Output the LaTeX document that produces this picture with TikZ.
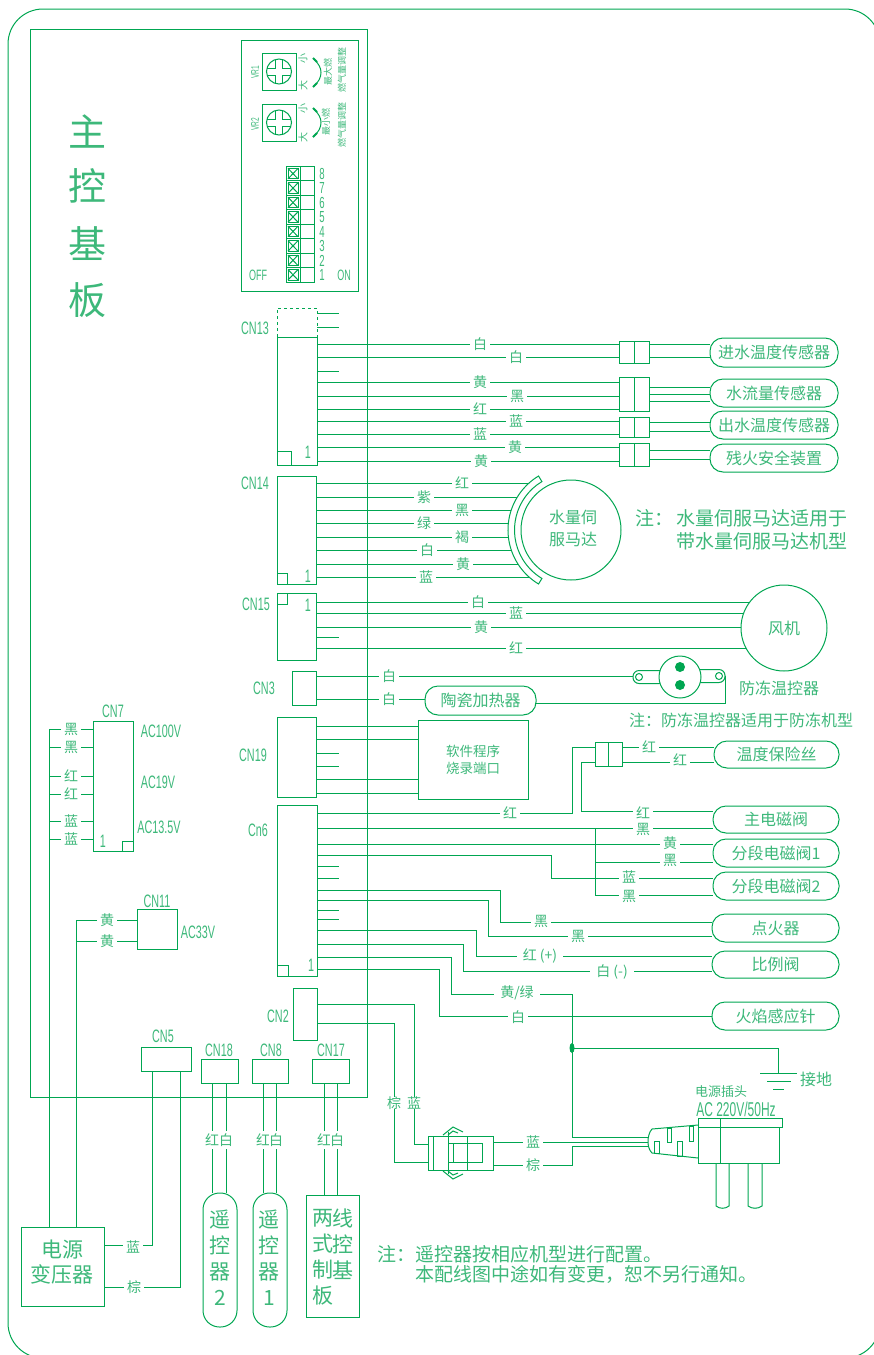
\documentclass[tikz,border=0pt]{standalone}
\usepackage{fontspec}
\setmainfont{Noto Sans CJK SC}
\newfontfamily\lat[FakeStretch=0.6]{Liberation Sans}
\usetikzlibrary{fit,calc,backgrounds,shapes.geometric}
\definecolor{wirecol}{HTML}{00A651}
\definecolor{textcol}{HTML}{3DB87A}
\newcommand{\fs}[1]{\fontsize{#1}{#1}\selectfont}
\tikzset{
  wire/.style={draw=wirecol,line width=1pt},
  pbox/.style={draw=wirecol,line width=1pt,inner sep=0pt,outer sep=0pt,text=textcol},
  capsule/.style={pbox,rounded corners=13pt},
  lab/.style={fill=white,text=textcol,inner xsep=3pt,inner ysep=0pt,font=\fs{14}},
  note/.style={text=textcol,inner sep=0pt},
  cnlab/.style={text=textcol,inner sep=0pt,font=\lat\fs{18}},
  small/.style={text=textcol,inner sep=0pt,rotate=90,font=\fs{9}}
}
\newcommand{\lb}[3]{\node[lab] (lb#1x#2) at (#1,#2) {#3};}
\newcommand{\hw}[3]{\draw[wire] (#1.east |- 0,#3) -- (#2.west |- 0,#3);}
\newcommand{\stub}[2]{\draw[wire] (#1.east |- 0,#2) -- (stubx |- 0,#2);}
\newcommand{\plugbox}[5]{\node[pbox,fit={(#2,#4) (#3,#5)}] (#1) {};
  \draw[wire] (#1.north) -- (#1.south);}
\newcommand{\captext}[2]{\node[note,font=\fs{16}] (#1t) at (#1.center) {#2};}
\begin{document}
\begin{tikzpicture}[x=1pt,y=-1pt]
  \useasboundingbox (0,0) rectangle (874,1355);
  \draw[wire,rounded corners=35pt] (8,9) rectangle (880,1358);
  \coordinate (stubx) at (339,0);
  \node[pbox,fit={(30,29) (367,1097)}] (board) {};
  \node[note,font=\fs{38}] (t1) at (87,131) {主};
  \node[note,font=\fs{38}] (t2) at (87,186) {控};
  \node[note,font=\fs{38}] (t3) at (87,244) {基};
  \node[note,font=\fs{38}] (t4) at (87,300) {板};

  \node[pbox,fit={(241,40) (358,291)}] (vrbox) {};
  \node[pbox,fit={(262,53) (296,90)}] (vra) {};
  \node[pbox,fit={(262,104) (296,141)}] (vrb) {};
  \foreach \n in {vra,vrb}{
    \node[pbox,circle,minimum size=25pt] (\n c) at (\n.center) {};
    \foreach \sx in {-1,1}\foreach \sy in {-1,1}
      \draw[wire] ($(\n.center)+(3.5*\sx,12*\sy)$) -- ($(\n.center)+(3.5*\sx,3.5*\sy)$) -- ($(\n.center)+(12*\sx,3.5*\sy)$);
  }
  \node[small,font=\lat\fs{11}] (vralab) at (255,72) {VR1};
  \node[small,font=\lat\fs{11}] (vrblab) at (255,124) {VR2};
  \node[small,font=\fs{10}] (xa) at (303,58) {小};
  \node[small,font=\fs{10}] (da) at (303,85) {大};
  \node[small,font=\fs{10}] (xb) at (303,108) {小};
  \node[small,font=\fs{10}] (db) at (303,137) {大};
  \node[small] (maxa) at (328,72) {最大燃};
  \node[small] (gasa) at (342,70) {燃气量调整};
  \node[small] (mina) at (326,122) {最小燃};
  \node[small] (gasb) at (342,125) {燃气量调整};
  \foreach \y in {58,108}{
    \draw[wire] (313,\y) .. controls (319,\y+6) and (321,\y+10) .. (321,\y+14.5) .. controls (321,\y+19) and (319,\y+24) .. (313,\y+29);
    \draw[wire,line width=2pt] (313,\y) -- (317,\y+4);
    \draw[wire,line width=2pt] (313,\y+29) -- (317,\y+25);
  }
  \foreach \i in {1,...,8}{
    \pgfmathsetmacro{\yt}{282-14.45*\i}
    \pgfmathsetmacro{\yb}{282-14.45*(\i-1)}
    \node[pbox,fit={(286,\yt) (314,\yb)}] (dip\i) {};
    \draw[wire] (300,\yt) -- (300,\yb);
    \draw[wire] (288,\yt+2) rectangle (298,\yb-2);
    \draw[wire] (288,\yt+2) -- (298,\yb-2);
    \draw[wire] (298,\yt+2) -- (288,\yb-2);
    \node[cnlab,font=\lat\fs{16}] (dipn\i) at (322,{275-14.45*(\i-1)}) {\i};
  }
  \node[cnlab,font=\lat\fs{15}] (off) at (258,275) {OFF};
  \node[cnlab,font=\lat\fs{15}] (on) at (344,275) {ON};

  % connectors on the board
  \node[pbox,fit={(277,337) (317,465)}] (cna) {};
  \draw[wire,dashed] (cna.north west) -- (277,308) -- (317,308) -- (cna.north east);
  \draw[wire] (277,451) rectangle (291,465);
  \node[cnlab] (cnat) at (255,328) {CN13};
  \node[cnlab] (cnao) at (308,452) {1};
  \node[pbox,fit={(277,476) (316,584)}] (cnb) {};
  \draw[wire] (277,573) rectangle (287,584);
  \node[cnlab] (cnbt) at (255,483) {CN14};
  \node[cnlab] (cnbo) at (308,576) {1};
  \node[pbox,fit={(277,593) (316,660)}] (cnc) {};
  \draw[wire] (277,593) rectangle (287,604);
  \node[cnlab] (cnct) at (256,604) {CN15};
  \node[cnlab] (cnco) at (308,605) {1};
  \node[pbox,fit={(292,671) (316,705)}] (cnd) {};
  \node[cnlab] (cndt) at (264,688) {CN3};
  \node[pbox,fit={(277,717) (316,797)}] (cne) {};
  \node[cnlab] (cnet) at (253,755) {CN19};
  \node[pbox,fit={(277,805) (317,976)}] (cnf) {};
  \draw[wire] (277,965) rectangle (288,976);
  \node[cnlab] (cnft) at (258,830) {Cn6};
  \node[cnlab] (cnfo) at (311,965) {1};
  \node[pbox,fit={(293,988) (317,1040)}] (cng) {};
  \node[cnlab] (cngt) at (278,1016) {CN2};

  % sensors
  \plugbox{pga}{619}{649}{341}{363}
  \plugbox{pgb}{619}{649}{377}{411}
  \plugbox{pgc}{619}{649}{417}{437}
  \plugbox{pgd}{619}{649}{443}{466}
  \node[capsule,fit={(710,338) (838,367)}] (capa) {};
  \captext{capa}{进水温度传感器}
  \node[capsule,fit={(710,379) (838,407)}] (capb) {};
  \captext{capb}{水流量传感器}
  \node[capsule,fit={(710,411) (838,439)}] (capc) {};
  \captext{capc}{出水温度传感器}
  \node[capsule,fit={(710,444) (838,472)}] (capd) {};
  \captext{capd}{残火安全装置}
  \stub{cna}{313}
  \stub{cna}{327}
  \stub{cna}{371}
  \foreach \y/\p in {344/pga,357/pga,382/pgb,396/pgb,409/pgb,421/pgc,434/pgc,447/pgd,461/pgd}{
    \draw[wire] (cna.east |- 0,\y) -- (\p.west |- 0,\y);
  }
  \foreach \y/\p/\c in {344/pga/capa,357/pga/capa,387/pgb/capb,394/pgb/capb,401/pgb/capb,422/pgc/capc,431/pgc/capc,450/pgd/capd,459/pgd/capd}{
    \draw[wire] (\p.east |- 0,\y) -- (\c.west |- 0,\y);
  }
  \lb{480}{344}{白}
  \lb{516}{357}{白}
  \lb{480}{382}{黄}
  \lb{517}{396}{黑}
  \lb{480}{409}{红}
  \lb{516}{421}{蓝}
  \lb{480}{434}{蓝}
  \lb{515}{447}{黄}
  \lb{481}{461}{黄}

  % water servo motor
  \node[pbox,circle,fill=white,minimum size=100pt] (motor) at (571,530) {};
  \node[note,font=\fs{16},align=center] (motort) at (573,528) {水量伺\\[6pt]服马达};
  \node[pbox,circle,fill=white,minimum size=86pt,font=\fs{16}] (fan) at (784,628) {风机};
  \begin{pgfonlayer}{background}
    \foreach \y in {483,497,510,523,537,550,564,577}{
      \draw[wire] (cnb.east |- 0,\y) -- (motor.center |- 0,\y);
    }
    \fill[white] (motor.center) circle[radius=62];
    \foreach \y in {602,613,627,648}{
      \draw[wire] (cnc.east |- 0,\y) -- (fan.center |- 0,\y);
    }
  \end{pgfonlayer}
  \draw[wire,fill=white] ($(motor.center)+(121:63)$) arc[start angle=121,end angle=239,radius=63]
    -- ($(motor.center)+(239:56.5)$) arc[start angle=239,end angle=121,radius=56.5] -- cycle;
  \lb{462}{483}{红}
  \lb{424}{497}{紫}
  \lb{462}{510}{黑}
  \lb{424}{523}{绿}
  \lb{462}{537}{褐}
  \lb{427}{550}{白}
  \lb{463}{564}{黄}
  \lb{426}{577}{蓝}
  \node[note,font=\fs{19}] (notea) at (635,518) [anchor=west] {注：};
  \node[note,font=\fs{19}] (noteb) at (848,518) [anchor=east] {水量伺服马达适用于};
  \node[note,font=\fs{19}] (notec) at (848,541) [anchor=east] {带水量伺服马达机型};

  % fan
  \stub{cnc}{637}
  \lb{478}{602}{白}
  \lb{516}{613}{蓝}
  \lb{481}{627}{黄}
  \lb{516}{648}{红}

  % frost thermostat
  \node[pbox,fill=white,rounded corners=6pt,fit={(633,670.5) (665,683.5)}] (lugl) {};
  \node[pbox,fill=white,rounded corners=6pt,fit={(695,669.5) (725,682.5)}] (lugr) {};
  \node[pbox,circle,minimum size=7pt] (holel) at (639,677) {};
  \node[pbox,circle,minimum size=7pt] (holer) at (719,676) {};
  \node[pbox,circle,fill=white,minimum size=42pt] (thermo) at (680,677) {};
  \node[circle,fill=wirecol,inner sep=0pt,minimum size=10pt] (bla) at (680,667) {};
  \node[circle,fill=wirecol,inner sep=0pt,minimum size=10pt] (blb) at (680,685) {};
  \node[capsule,fit={(425,686) (536,715)}] (heater) {};
  \captext{heater}{陶瓷加热器}
  \hw{cnd}{lugl}{676}
  \hw{cnd}{heater}{699}
  \draw[wire] (heater.east |- 0,703) -- (lugr.east |- 0,703) -- (lugr.east |- 0,676);
  \lb{389}{676}{白}
  \lb{389}{699}{白}
  \node[note,font=\fs{16}] (thermot) at (779,688) {防冻温控器};
  \node[note,font=\fs{16}] (noted) at (741,720) {注：防冻温控器适用于防冻机型};

  % burner port
  \node[pbox,fit={(418,720) (528,799)}] (burn) {};
  \node[note,font=\fs{13.5},align=center] (burnt) at (473,760) {软件程序\\[3pt]烧录端口};
  \foreach \y in {726,739,779,793}{
    \hw{cne}{burn}{\y}
  }
  \stub{cne}{753}
  \stub{cne}{766}

  % valves
  \plugbox{fuse}{595}{622}{742}{766}
  \node[capsule,fit={(714,741) (839,768)}] (capt) {};
  \captext{capt}{温度保险丝}
  \node[capsule,fit={(713,806) (839,833)}] (capm) {};
  \captext{capm}{主电磁阀}
  \node[capsule,fit={(713,839) (839,867)}] (cape) {};
  \captext{cape}{分段电磁阀1}
  \node[capsule,fit={(713,872) (839,900)}] (caph) {};
  \captext{caph}{分段电磁阀2}
  \node[capsule,fit={(712,914) (839,942)}] (capi) {};
  \captext{capi}{点火器}
  \node[capsule,fit={(712,951) (839,978)}] (capp) {};
  \captext{capp}{比例阀}
  \node[capsule,fit={(712,1002) (839,1030)}] (capf) {};
  \captext{capf}{火焰感应针}
  \draw[wire] (cnf.east |- 0,813) -- (572,813) -- (572,747) -- (fuse.west |- 0,747);
  \draw[wire] (fuse.west |- 0,762) -- (581,762) -- (581,811) -- (capm.west |- 0,811);
  \hw{fuse}{capt}{747}
  \hw{fuse}{capt}{762}
  \hw{cnf}{capm}{828}
  \draw[wire] (595,828) -- (595,895) -- (caph.west |- 0,895);
  \draw[wire] (595,862) -- (cape.west |- 0,862);
  \hw{cnf}{cape}{844}
  \draw[wire] (cnf.east |- 0,855) -- (551,855) -- (551,878) -- (caph.west |- 0,878);
  \stub{cnf}{866}
  \stub{cnf}{878}
  \stub{cnf}{910}
  \stub{cnf}{919}
  \draw[wire] (cnf.east |- 0,890) -- (500,890) -- (500,922) -- (capi.west |- 0,922);
  \draw[wire] (cnf.east |- 0,900) -- (488,900) -- (488,936) -- (capi.west |- 0,936);
  \draw[wire] (cnf.east |- 0,930) -- (476,930) -- (476,956) -- (capp.west |- 0,956);
  \draw[wire] (cnf.east |- 0,944) -- (463,944) -- (463,971) -- (capp.west |- 0,971);
  \draw[wire] (cnf.east |- 0,969) -- (439,969) -- (439,1016) -- (capf.west |- 0,1016);
  \coordinate (cord) at (648,1142);
  \draw[wire] (cnf.east |- 0,957) -- (451,957) -- (451,994) -- (572,994) -- (572,1137) -- (cord |- 0,1137);
  \lb{510}{813}{红}
  \lb{649}{747}{红}
  \lb{680}{760}{红}
  \lb{643}{813}{红}
  \lb{643}{829}{黑}
  \lb{670}{843}{黄}
  \lb{670}{860}{黑}
  \lb{629}{877}{蓝}
  \lb{629}{896}{黑}
  \lb{541}{921}{黑}
  \lb{578}{936}{黑}
  \node[lab,inner xsep=6pt] (lbrp) at (540,956) {红 (+)};
  \node[lab,inner xsep=6pt] (lbwm) at (612,972) {白 (-)};
  \node[lab,inner xsep=6pt] (lbyg) at (517,993) {黄/绿};
  \lb{518}{1017}{白}

  % mains
  \node[ellipse,fill=wirecol,inner sep=0pt,minimum width=5pt,minimum height=10pt] (junc) at (572,1048) {};
  \coordinate (gnd) at (778,1073);
  \draw[wire] (junc.center) -- (gnd |- junc.center) -- (gnd);
  \draw[wire] (760,1073) -- (797,1073);
  \draw[wire] (767,1081) -- (791,1081);
  \draw[wire] (773,1089) -- (784,1089);
  \node[note,font=\fs{16}] (gndt) at (816,1079) {接地};
  \node[pbox,fit={(428,1136) (493,1170)}] (conn) {};
  \draw[wire] (433,1136) -- (433,1170);
  \draw[wire] (467,1136) -- (467,1170);
  \draw[wire] (448,1132) -- (448,1174);
  \draw[wire] (448,1143) rectangle (482,1162);
  \draw[wire] (453,1143) -- (453,1162);
  \draw[wire] (443,1135) -- (453,1127) -- (463,1132);
  \draw[wire] (448,1135) -- (453,1131) -- (458,1133);
  \draw[wire] (443,1171) -- (453,1179) -- (463,1174);
  \draw[wire] (448,1171) -- (453,1175) -- (458,1173);
  \draw[wire] (cng.east |- 0,1004) -- (414,1004) -- (414,1144) -- (conn.west |- 0,1144);
  \draw[wire] (cng.east |- 0,1023) -- (394,1023) -- (394,1162) -- (conn.west |- 0,1162);
  \draw[wire] (conn.east |- 0,1142) -- (cord);
  \draw[wire] (conn.east |- 0,1165) -- (572,1165) -- (572,1146) -- (cord |- 0,1146);
  \lb{394}{1103}{棕}
  \lb{414}{1103}{蓝}
  \lb{533}{1142}{蓝}
  \lb{533}{1165}{棕}
  \node[pbox,fit={(698,1127) (779,1163)}] (plug) {};
  \node[pbox,fit={(698,1118) (782,1127)}] (plugtop) {};
  \draw[wire] (720,1118) -- (720,1163);
  \draw[wire] (716,1163) -- (716,1206) .. controls (720,1209) and (725,1209) .. (729,1206) -- (729,1163);
  \draw[wire] (748,1163) -- (748,1206) .. controls (752,1209) and (758,1209) .. (762,1206) -- (762,1163);
  \draw[wire] (698,1125) -- (652,1129) .. controls (649,1132) and (648,1138) .. (648,1141) .. controls (648,1146) and (649,1150) .. (652,1153) -- (698,1158);
  \draw[wire] (667,1128) rectangle (671,1142);
  \draw[wire] (689,1126) rectangle (693,1141);
  \draw[wire] (654,1141) rectangle (659,1153);
  \draw[wire] (677,1141) rectangle (682,1156);
  \node[note,font=\fs{13}] (plugt) at (721,1092) {电源插头};
  \node[cnlab,font=\lat\fs{20}] (plugv) at (736,1109) {AC 220V/50Hz};

  % CN7 and transformer
  \node[pbox,fit={(21,1227) (104,1306)}] (trans) {};
  \node[note,font=\fs{21},align=center] (transt) at (62,1262) {电源\\[4pt]变压器};
  \node[pbox,fit={(93,721) (133,851)}] (cnh) {};
  \draw[wire] (122,841) rectangle (133,851);
  \node[cnlab] (cnht) at (113,711) {CN7};
  \node[cnlab] (cnho) at (103,841) {1};
  \foreach \y in {729,747,776,794,821,839}{
    \draw[wire] (49,\y) -- (cnh.west |- 0,\y);
  }
  \draw[wire] (49,729) -- (trans.north -| 49,0);
  \lb{71}{729}{黑}
  \lb{71}{747}{黑}
  \lb{71}{776}{红}
  \lb{71}{794}{红}
  \lb{71}{821}{蓝}
  \lb{71}{839}{蓝}
  \node[cnlab] (acx) at (161,731) {AC100V};
  \node[cnlab] (acy) at (158,782) {AC19V};
  \node[cnlab] (acz) at (159,827) {AC13.5V};
  \node[pbox,fit={(137,909) (177,949)}] (cni) {};
  \node[cnlab] (cnit) at (157,901) {CN11};
  \node[cnlab] (acw) at (198,932) {AC33V};
  \draw[wire] (cni.west |- 0,920) -- (76,920) -- (trans.north -| 76,0);
  \draw[wire] (cni.west |- 0,941) -- (76,941);
  \lb{107}{920}{黄}
  \lb{107}{941}{黄}

  % bottom connectors
  \node[pbox,fit={(141,1047) (191,1071)}] (cnj) {};
  \node[cnlab] (cnjt) at (163,1036) {CN5};
  \draw[wire] (cnj.south -| 152,0) -- (152,1245) -- (trans.east |- 0,1245);
  \draw[wire] (cnj.south -| 180,0) -- (180,1287) -- (trans.east |- 0,1287);
  \lb{133}{1247}{蓝}
  \lb{134}{1287}{棕}
  \node[pbox,fit={(201,1059) (238,1083)}] (cnk) {};
  \node[cnlab] (cnkt) at (219,1050) {CN18};
  \node[pbox,fit={(252,1059) (288,1083)}] (cnl) {};
  \node[cnlab] (cnlt) at (271,1050) {CN8};
  \node[pbox,fit={(312,1059) (349,1083)}] (cnm) {};
  \node[cnlab] (cnmt) at (331,1050) {CN17};
  \node[pbox,rounded corners=16.5pt,fit={(203,1193) (237,1327)}] (rema) {};
  \node[note,font=\fs{21},align=center] (remat) at (220,1258) {遥\\[5pt]控\\[5pt]器\\[5pt]2};
  \node[pbox,rounded corners=16.5pt,fit={(253,1193) (287,1327)}] (remb) {};
  \node[note,font=\fs{21},align=center] (rembt) at (269,1258) {遥\\[5pt]控\\[5pt]器\\[5pt]1};
  \node[pbox,fit={(306,1195) (359,1317)}] (wpan) {};
  \node[note,font=\fs{21},align=center] (wpa) at (323,1257) {两\\[5pt]式\\[5pt]制\\[5pt]板};
  \node[note,font=\fs{21},align=center] (wpb) at (343,1244) {线\\[5pt]控\\[5pt]基};
  \foreach \x/\a/\b in {212/cnk/rema,226/cnk/rema,263/cnl/remb,276/cnl/remb,324/cnm/wpan,337/cnm/wpan}{
    \draw[wire] (\a.south -| \x,0) -- (\b.north -| \x,0);
  }
  \foreach \x/\t in {212/红,226/白,263/红,276/白,324/红,337/白}{
    \node[lab,inner xsep=0pt,inner ysep=3pt] (lc\x) at (\x,1140) {\t};
  }
  \node[note,font=\fs{19},anchor=west] (notee) at (377,1254) {注：遥控器按相应机型进行配置。};
  \node[note,font=\fs{19},anchor=west] (notef) at (415,1274) {本配线图中途如有变更，恕不另行通知。};
\end{tikzpicture}
\end{document}
